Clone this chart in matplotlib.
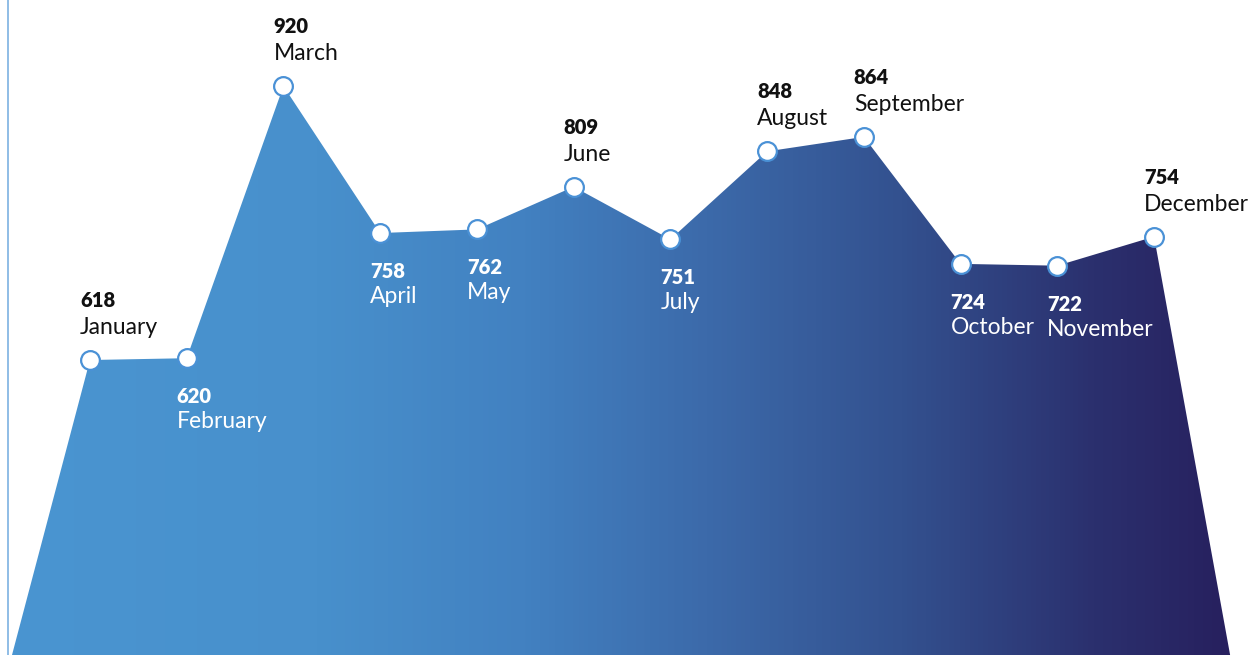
import numpy as np
import matplotlib
matplotlib.use("Agg")
import matplotlib.pyplot as plt
from matplotlib.colors import LinearSegmentedColormap
from matplotlib.patches import Polygon

months = ["January", "February", "March", "April", "May", "June",
          "July", "August", "September", "October", "November", "December"]
values = [618, 620, 920, 758, 762, 809, 751, 848, 864, 724, 722, 754]
label_side = ["above", "below", "above", "below", "below", "above",
              "below", "above", "above", "below", "below", "above"]

W, H = 1260, 655
fig = plt.figure(figsize=(W / 100, H / 100), dpi=100)
ax = fig.add_axes([0, 0, 1, 1])

xmin, xmax = -0.930, 12.095
ymin, ymax = 292.8, 1014.9
ax.set_xlim(xmin, xmax)
ax.set_ylim(ymin, ymax)
ax.axis("off")

x = np.arange(len(values))
# area polygon: from baseline corner, through points, to baseline corner
poly_x = np.concatenate([[x[0] - 0.806], x, [x[-1] + 0.786]])
poly_y = np.concatenate([[ymin], values, [ymin]])
poly = Polygon(np.column_stack([poly_x, poly_y]), closed=True,
               facecolor="none", edgecolor="none")
ax.add_patch(poly)

stops = [(0.0, "#4a95d1"), (0.25, "#4890cc"), (0.42, "#4281c1"),
         (0.57, "#3c6aaa"), (0.73, "#33518f"), (0.89, "#2b306e"),
         (1.0, "#27205e")]
cmap = LinearSegmentedColormap.from_list("grad", stops)
grad = np.linspace(0, 1, 512).reshape(1, -1)
im = ax.imshow(grad, cmap=cmap, aspect="auto",
               extent=(poly_x[0], poly_x[-1], ymin, ymax), zorder=1)
im.set_clip_path(poly)

# left vertical line
ax.axvline(xmin + (8 / W) * (xmax - xmin), color="#8fbde6", lw=1.4, zorder=2)

ax.plot(x, values, linestyle="none", marker="o", markersize=13.5,
        markerfacecolor="white", markeredgecolor="#4a91d6",
        markeredgewidth=1.6, zorder=4)

fam = ["Lato", "DejaVu Sans"]
for xi, v, m, side in zip(x, values, months, label_side):
    if side == "above":
        col = "#111111"
        off_v, off_m = 53, 26
    else:
        col = "white"
        off_v, off_m = -45, -70
    ax.annotate(str(v), (xi, v), xytext=(-10, off_v), textcoords="offset pixels",
                ha="left", va="baseline", fontsize=14.5, fontweight="heavy",
                color=col, family=fam, zorder=5)
    ax.annotate(m, (xi, v), xytext=(-10, off_m), textcoords="offset pixels",
                ha="left", va="baseline", fontsize=16.5, fontweight="normal",
                color=col, family=fam, zorder=5)

fig.savefig("out.png", dpi=100)
